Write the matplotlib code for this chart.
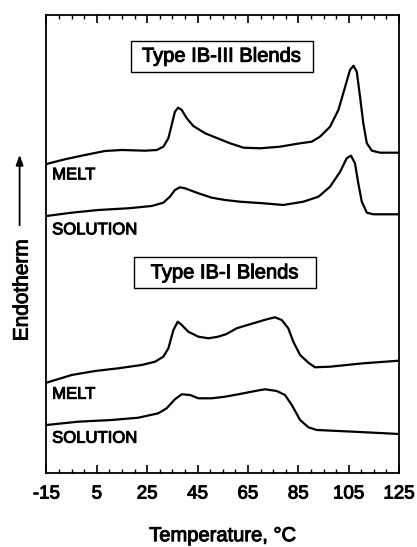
import matplotlib
matplotlib.use("Agg")
from matplotlib import pyplot as plt
from matplotlib.patches import FancyArrowPatch
import matplotlib.patheffects as pe
import numpy as np

plt.rcParams['font.family'] = ['Liberation Sans', 'DejaVu Sans']

# DSC traces (temperature in C, signal in arbitrary units)
t_iii_melt = [-15, -7.7, 0.3, 8.2, 14.9, 24.1, 28.8, 31.4, 33.4, 34.7, 36, 37.3, 38.7, 40.7, 43.3, 48, 53.9,
              57.9, 63.2, 69.8, 77.7, 85.7, 90.3, 93.6, 97.6, 100.9, 103.6, 105.5, 106.9, 108.2, 109.5,
              110.8, 112.2, 114.2, 117.5, 125]
s_iii_melt = [309, 313.7, 318, 322, 323, 322.3, 323, 326.3, 334.7, 348, 361.3, 365.3, 363, 354.7, 347, 339.7, 333.7,
              329.7, 325.3, 324.7, 326.3, 329.7, 331.3, 336.3, 346.3, 363, 386.3, 403, 407.3, 401.3, 376.3,
              349.7, 329.7, 322.3, 320.3, 320.3]

t_iii_sol = [-15, -5, 5.6, 17.5, 26.8, 31.4, 34, 36, 38, 40, 45.3, 50.6, 55.9, 61.8, 71.1, 79, 87, 93, 97.6,
             101.6, 104.2, 105.9, 107.5, 108.8, 110.2, 112.2, 114.8, 125]
s_iii_sol = [257, 260.3, 263, 264.7, 267, 270.3, 276.3, 283, 285.7, 284.7, 279.7, 275.3, 273, 271.3, 269.7, 268,
             271.3, 276.3, 286.3, 301.3, 314.7, 317.3, 309.7, 289.7, 271.3, 260.3, 258.7, 258.7]

t_i_melt = [-15, -5, 4.3, 13.5, 22.8, 28.1, 31.4, 33.4, 35.4, 37.1, 38.7, 41.3, 45.3, 49.3, 53.2, 56.5, 60.5,
            67.1, 72.5, 75.7, 78.4, 81, 83, 85.7, 89, 91.6, 97.6, 110.8, 125]
s_i_melt = [90.3, 98, 102, 104.7, 108, 111.3, 116.3, 124.7, 143, 151.3, 148, 141.3, 136.3, 134.7, 136.3, 139,
            144.7, 149.7, 153.7, 155.7, 153, 144.7, 131.3, 118, 110.3, 105.7, 106.3, 109.7, 112.3]

t_i_sol = [-15, -2.4, 10.9, 21.5, 29.4, 32.7, 36, 38.7, 42, 45.3, 50.6, 55.9, 61.8, 68.5, 71.8, 76.4, 79.7,
           82.4, 85.7, 89, 92.3, 106.9, 125]
s_i_sol = [48, 51.3, 53, 55.3, 59.7, 64.7, 73.7, 78.7, 78, 74.7, 74.7, 76.3, 79, 82.3, 83.7, 82, 78,
           68, 53, 45.7, 43, 41.3, 39]

xticks = [-15, 5, 25, 45, 65, 85, 105, 125]

# slightly heavier text, like the scanned Helvetica
thick = [pe.withStroke(linewidth=0.7, foreground='black')]

fig = plt.figure(figsize=(4.17, 5.47), dpi=100)
ax = fig.add_axes([0.1115, 0.1353, 0.8455, 0.8373])

for t, s in [(t_iii_melt, s_iii_melt), (t_iii_sol, s_iii_sol), (t_i_melt, s_i_melt), (t_i_sol, s_i_sol)]:
    ax.plot(t, s, color='black', lw=1.6, solid_joinstyle='round')

ax.set_xlim(-15, 125)
ax.set_ylim(0, 458)
ax.set_xticks(xticks)
ax.set_xticks(np.arange(-15, 126, 5), minor=True)
ax.set_xticklabels([str(v) for v in xticks], fontsize=13.5)
for lbl in ax.get_xticklabels():
    lbl.set_path_effects(thick)
ax.set_yticks([])
ax.tick_params(axis='x', which='major', direction='in', length=6, width=1.2, top=True, pad=9)
ax.tick_params(axis='x', which='minor', direction='in', length=3, width=1, top=True)
for sp in ax.spines.values():
    sp.set_linewidth(1.3)

ax.set_xlabel('Temperature, °C', fontsize=14.5, labelpad=17, path_effects=thick)

box = dict(boxstyle='square,pad=0.3', facecolor='white', edgecolor='black', lw=1)
ax.text(0.497, 0.910, ' Type IB-III Blends ', transform=ax.transAxes, ha='center', va='center',
        fontsize=14.5, bbox=box, path_effects=thick)
ax.text(0.506, 0.437, '  Type IB-I Blends  ', transform=ax.transAxes, ha='center', va='center',
        fontsize=14.5, bbox=box, path_effects=thick)

ax.text(0.016, 0.651, 'MELT', transform=ax.transAxes, ha='left', va='center', fontsize=12, path_effects=thick)
ax.text(0.016, 0.531, 'SOLUTION', transform=ax.transAxes, ha='left', va='center', fontsize=12, path_effects=thick)
ax.text(0.016, 0.172, 'MELT', transform=ax.transAxes, ha='left', va='center', fontsize=12, path_effects=thick)
ax.text(0.016, 0.076, 'SOLUTION', transform=ax.transAxes, ha='left', va='center', fontsize=12, path_effects=thick)

# y-axis label with upward arrow
fig.text(0.053, 0.470, 'Endotherm', rotation=90, ha='center', va='center', fontsize=15, path_effects=thick)
fig.patches.append(FancyArrowPatch((0.047, 0.583), (0.047, 0.722), transform=fig.transFigure,
                                   arrowstyle='-|>,head_length=6,head_width=2.2', color='black', lw=1.3))

fig.savefig('out.png', dpi=100)
